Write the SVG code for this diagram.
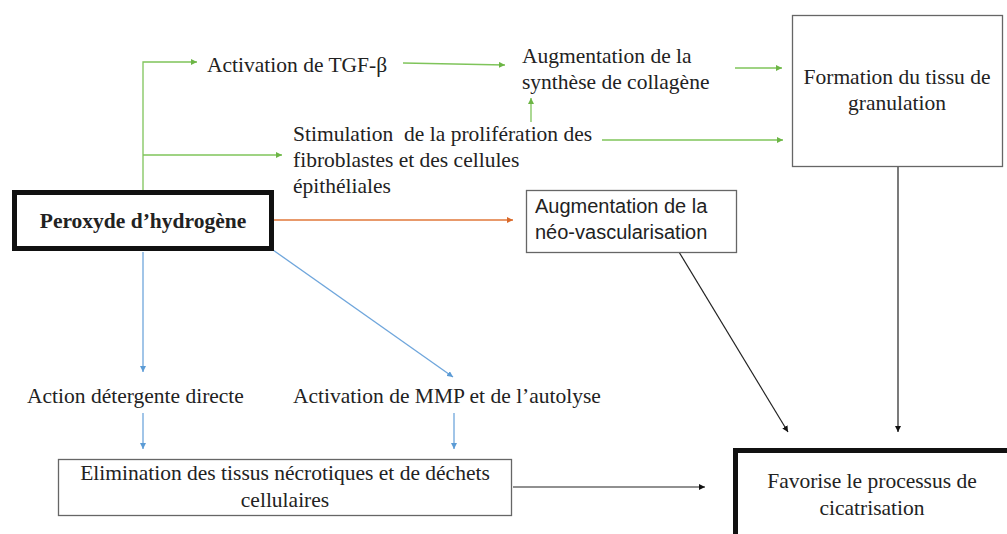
<svg xmlns="http://www.w3.org/2000/svg" width="1007" height="534" viewBox="0 0 1007 534">
<style>
text{font-family:"Liberation Serif","Times New Roman",serif;font-size:21.5px;fill:#222}
.sans{font-family:"Liberation Sans",Arial,sans-serif;font-size:20px}
.b{font-weight:bold}
.mid{text-anchor:middle}
.pre{white-space:pre}
.box{fill:#fff;stroke:#666;stroke-width:1.3}
.thick{fill:#fff;stroke:#111;stroke-width:5}
.g{stroke:#7fc45a;stroke-width:1.3;fill:none}
.o{stroke:#e0773a;stroke-width:1.3;fill:none}
.bl{stroke:#6fa6dc;stroke-width:1.3;fill:none}
.k{stroke:#222;stroke-width:1.2;fill:none}
</style>
<defs>
<marker id="ag" viewBox="0 0 10 10" refX="10" refY="5" markerWidth="6" markerHeight="6" markerUnits="userSpaceOnUse" orient="auto"><path d="M0,0L10,5L0,10z" fill="#6cb545"/></marker>
<marker id="ao" viewBox="0 0 10 10" refX="10" refY="5" markerWidth="6" markerHeight="6" markerUnits="userSpaceOnUse" orient="auto"><path d="M0,0L10,5L0,10z" fill="#d9692a"/></marker>
<marker id="ab" viewBox="0 0 10 10" refX="10" refY="5" markerWidth="6" markerHeight="6" markerUnits="userSpaceOnUse" orient="auto"><path d="M0,0L10,5L0,10z" fill="#5b9bd5"/></marker>
<marker id="ak" viewBox="0 0 10 10" refX="10" refY="5" markerWidth="6" markerHeight="6" markerUnits="userSpaceOnUse" orient="auto"><path d="M0,0L10,5L0,10z" fill="#111"/></marker>
</defs>
<rect width="1007" height="534" fill="#fff"/>
<g id="connectors">
<path class="g" d="M143,190V62H197" marker-end="url(#ag)"/>
<path class="g" d="M143,155H282" marker-end="url(#ag)"/>
<path class="g" d="M403,63L505,65" marker-end="url(#ag)"/>
<path class="g" d="M735,68H782" marker-end="url(#ag)"/>
<path class="g" d="M531,122V98" marker-end="url(#ag)"/>
<path class="g" d="M602,140H783" marker-end="url(#ag)"/>
<path class="o" d="M273,220H513" marker-end="url(#ao)"/>
<path class="bl" d="M143,252V372" marker-end="url(#ab)"/>
<path class="bl" d="M273,250L453,377" marker-end="url(#ab)"/>
<path class="bl" d="M143,413V449" marker-end="url(#ab)"/>
<path class="bl" d="M454,413V449" marker-end="url(#ab)"/>
<path class="k" d="M898,166V432" marker-end="url(#ak)"/>
<path class="k" d="M679,252L788,432" marker-end="url(#ak)"/>
<path class="k" d="M513,487H705" marker-end="url(#ak)"/>
</g>
<g id="peroxyde">
<rect class="thick" x="14.5" y="192.5" width="257" height="56"/>
<text class="b mid" x="143" y="228">Peroxyde d’hydrogène</text>
</g>
<g id="tgf"><text x="207" y="72">Activation de TGF-β</text></g>
<g id="collagene">
<text x="522" y="63">Augmentation de la</text>
<text x="522" y="89">synthèse de collagène</text>
</g>
<g id="stimulation">
<text class="pre" x="293" y="141">Stimulation  de la prolifération des</text>
<text x="293" y="167">fibroblastes et des cellules</text>
<text x="293" y="193">épithéliales</text>
</g>
<g id="granulation">
<rect class="box" x="792.5" y="15.5" width="210" height="151"/>
<text class="mid" x="897" y="84">Formation du tissu de</text>
<text class="mid" x="897" y="110">granulation</text>
</g>
<g id="neo">
<rect class="box" x="526.5" y="190.5" width="210" height="62"/>
<text class="sans" x="535" y="213">Augmentation de la</text>
<text class="sans" x="535" y="239">néo-vascularisation</text>
</g>
<g id="detergente"><text x="27" y="403">Action détergente directe</text></g>
<g id="mmp"><text x="293" y="403">Activation de MMP et de l’autolyse</text></g>
<g id="elimination">
<rect class="box" x="58.5" y="459.5" width="453" height="56"/>
<text class="mid" x="285" y="480">Elimination des tissus nécrotiques et de déchets</text>
<text class="mid" x="285" y="507">cellulaires</text>
</g>
<g id="cicatrisation">
<rect class="thick" x="735.5" y="450.5" width="300" height="100"/>
<text class="mid" x="872" y="488">Favorise le processus de</text>
<text class="mid" x="872" y="515">cicatrisation</text>
</g>
</svg>
